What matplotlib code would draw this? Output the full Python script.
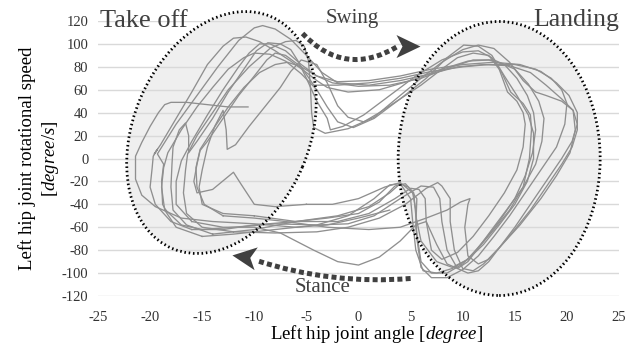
import numpy as np
import matplotlib
matplotlib.use("Agg")
import matplotlib.pyplot as plt
from matplotlib.patches import Ellipse, Polygon, FancyArrowPatch
from matplotlib.transforms import Affine2D, ScaledTranslation

plt.rcParams['font.family'] = ['Liberation Serif', 'DejaVu Serif']
plt.rcParams['mathtext.fontset'] = 'custom'
plt.rcParams['mathtext.it'] = 'Liberation Serif:italic'
plt.rcParams['mathtext.rm'] = 'Liberation Serif'
plt.rcParams['axes.unicode_minus'] = False

# hip angle [deg] / rotational speed [deg/s], one pair per gait cycle
angle_1 = [3, 0, -3, -6, -10, -14, -17, -19.5, -20.8, -21.4, -21.4, -21.4, -20.8, -20, -19.2, -18.6,
           -18, -16.5, -14.5, -12.5, -10.6]
speed_1 = [-45, -52, -58, -60, -57, -55, -52, -42, -32, -18, -5, 2, 14, 28, 40, 47,
           49, 49, 47, 45, 45]

angle_2 = [-18.5, -18.8, -18.9, -18.7, -19.3, -17.5, -15.5, -13.5, -11.5, -10, -9.2, -8, -6.5, -5,
           -3.5, -2, 1, 4, 7, 9.5, 12, 14.5, 16.5, 18, 19.5, 20.6, 21, 20.5, 19.5, 18, 16.5, 15,
           13.5, 12.5, 11.5, 10.5, 9.5, 8.5, 8, 7.8, 7.2, 6, 4, 1.5, -1, -4, -8, -12, -15, -17, -18.5]
speed_2 = [-45, -40, -20, -5, 4, 30, 55, 80, 103, 114, 116, 113, 104, 90,
           75, 66, 64, 68, 74, 80, 82, 81, 75, 64, 52, 42, 30, 15, 0, -20, -40, -60,
           -78, -90, -98, -100, -96, -80, -55, -35, -25, -24, -35, -50, -57, -58, -57, -60, -62, -58, -45]

angle_3 = [-16, -18, -19.5, -20, -19.8, -19.7, -19.3, -19.6, -19, -17.5, -16, -14.5, -13, -12, -10.8,
           -9.5, -8, -6.5, -5, -4, -3, -1, 2, 5, 8, 10.5, 12.5, 14, 15.2, 16.2, 16.8, 17, 16.7, 16,
           15, 13.5, 12, 10.5, 9, 7.5, 6, 5.5, 5.3, 4.5, 3.5, 2, 0, -3, -6, -10, -13, -16]
speed_3 = [-62, -55, -40, -25, -8, 2, 8, 4, 12, 35, 58, 82, 98, 105, 106,
           102, 94, 85, 75, 68, 62, 58, 60, 68, 78, 85, 86, 82, 70, 55, 40, 25, 5, -15,
           -35, -55, -72, -88, -95, -90, -72, -50, -30, -22, -24, -38, -48, -52, -55, -58, -62, -62]

angle_4 = [-14, -16.5, -17.8, -18, -17.9, -17.8, -17.2, -16.6, -16.3, -16.3, -15.5, -14, -12.5, -11,
           -9.8, -8.7, -7.5, -6.5, -5.8, -5, -4, -3, -2.7, -1.5, 0.5, 3, 5.5, 8, 10, 11.5, 12.8, 13.8,
           14.6, 15.8, 16.5, 16.6, 16.4, 15.8, 14.5, 13, 11.5, 10, 8.5, 7, 6, 5.5, 5.6, 4.8, 4, 3, 1,
           -2, -6, -10, -14]
speed_4 = [-66, -58, -45, -25, -5, 10, 25, 31, 20, 5, 15, 35, 58, 78,
           94, 101, 100, 95, 85, 70, 50, 35, 25, 28, 38, 55, 72, 86, 93, 94, 88, 74,
           58, 48, 38, 25, 0, -25, -45, -62, -78, -92, -100, -100, -90, -60, -35, -25, -22, -30, -42,
           -50, -55, -62, -66]

angle_5 = [-12, -15, -16.5, -16.8, -16.6, -16.4, -15.5, -14, -12.5, -10.5, -8.5, -7, -6, -5.2, -4.8,
           -4.6, -4.5, -4.3, -3.2, -1, 1.5, 4, 6, 8, 10, 11.5, 13, 14.5, 15.8, 17, 18, 19.5, 20.6,
           20.8, 20.3, 19, 17.5, 15.5, 13.5, 12, 11, 10, 9.2, 8.8, 8.8, 8, 7.6, 6.5, 4.5, 2, -1, -4,
           -8, -12]
speed_5 = [-64, -60, -48, -30, -10, 4, 20, 40, 60, 80, 96, 102, 103, 98, 85,
           60, 40, 27, 22, 26, 36, 55, 70, 84, 95, 99, 96, 84, 68, 58, 55, 50, 42,
           25, 5, -15, -35, -58, -78, -92, -98, -96, -80, -55, -35, -24, -21, -26, -40, -52, -60, -64,
           -65, -64]

angle_6 = [-10, -13, -15, -15.3, -15, -14.5, -13.8, -13, -12.7, -12.6, -11.8, -10.5, -9, -7.5, -6.5,
           -5.5, -4, -3, -2, -1, 0.5, 2, 4, 6, 8, 9.5, 11, 12.5, 13.5, 14.3, 15.2, 15.8, 16, 15.8,
           15.2, 14, 12.5, 11, 9.5, 8, 7, 6.5, 6.4, 5.8, 5, 3.5, 1, -2, -6, -10]
speed_6 = [-50, -48, -40, -25, -10, 10, 28, 42, 25, 8, 12, 28, 45, 62, 76,
           86, 82, 66, 46, 36, 32, 40, 52, 64, 78, 88, 92, 90, 78, 58, 50, 40, 30, 10,
           -10, -30, -50, -68, -82, -88, -80, -55, -35, -27, -26, -35, -48, -55, -55, -50]

angle_7 = [-5, -8, -10, -11.3, -12, -12.8, -14, -15.5, -15.8, -15.5, -15.2, -14.5, -13, -11.5, -10,
           -8.8, -8, -7, -5.5, -4.3, -2, 1, 4, 7, 10, 12.5, 15, 17, 18.5, 19.5, 20, 19.8, 19, 17.5,
           16, 14.5, 13, 11.5, 10, 8.5, 7, 6, 5.6, 5.5, 5.2, 4, 2.5, 0, -2.5, -5]
speed_7 = [-40, -42, -40, -22, -12, -18, -27, -30, -20, -5, 7, 15, 35, 55, 72,
           86, 92, 90, 80, 64, 64, 66, 70, 76, 80, 82, 82, 78, 70, 60, 48, 30, 10, -10,
           -30, -50, -68, -85, -97, -104, -104, -95, -70, -45, -30, -21, -25, -35, -40, -40]

angle_8 = [-16, -17.5, -17.5, -17, -16, -14.5, -13, -11.5, -10.5, -9.5, -8.5, -7, -5.5, -4, -2.5, 0,
           3, 6, 9, 11, 13, 15, 16.3, 17.3, 17.8, 17.6, 17, 15.8, 14.2, 12.8, 11.5, 10.5, 9.5, 8.5,
           7.5, 6.5, 5.5, 4, 2, 0, -2, -4.3, -7.5, -10, -13, -16]
speed_8 = [-55, -40, -20, -2, 15, 38, 60, 80, 92, 100, 100, 94, 82, 72, 66, 63,
           64, 70, 80, 86, 86, 78, 65, 50, 35, 15, -5, -25, -45, -62, -78, -90, -96, -92,
           -75, -55, -58, -72, -86, -93, -90, -80, -65, -60, -60, -55]

angle_9 = [-13, -14.8, -15.5, -15.6, -15.2, -14, -12.5, -11, -9.5, -8, -6.8, -5.5, -4, -2, 1, 4, 7,
           10, 13, 15.5, 17.5, 19, 20.2, 21, 21, 20.5, 19.5, 18, 16.5, 15, 13.5, 12.5, 11.5, 10.5,
           10.2, 10.5, 10.7, 9.8, 8.5, 6.5, 4, 1, -3, -7, -10, -13]
speed_9 = [-50, -40, -25, -8, 8, 25, 45, 62, 75, 82, 84, 80, 72, 67, 68, 72, 78,
           82, 84, 82, 76, 66, 55, 40, 25, 10, -5, -25, -45, -62, -78, -88, -92, -85,
           -60, -40, -35, -38, -45, -52, -60, -62, -60, -55, -52, -50]

angle_10 = [-15, -17.5, -18.6, -18.9, -18.7, -18.3, -17, -15.5, -14, -12.5, -11, -10, -8.5, -7, -5.5,
            -4, -3, -2, -0.5, 1.5, 4, 6.5, 8.5, 10.1, 11.5, 12.8, 14, 15.2, 16.3, 16.8, 16.8, 16.2,
            15, 13.5, 12, 10.5, 9, 7.5, 6.2, 5.5, 5.2, 5, 4, 3, 1.5, -1, -4, -8, -12, -15]
speed_10 = [-68, -60, -45, -25, -8, 5, 25, 45, 62, 78, 88, 92, 91, 85, 74,
            60, 45, 32, 27, 35, 52, 70, 88, 99, 98, 90, 72, 55, 38, 22, 0, -20,
            -40, -58, -75, -88, -96, -100, -98, -80, -55, -35, -22, -23, -35, -50, -58, -62, -66, -68]

angles = [angle_1, angle_2, angle_3, angle_4, angle_5, angle_6, angle_7, angle_8, angle_9, angle_10]
speeds = [speed_1, speed_2, speed_3, speed_4, speed_5, speed_6, speed_7, speed_8, speed_9, speed_10]

x_ticks = list(range(-25, 30, 5))
y_ticks = list(range(-120, 140, 20))

fig = plt.figure(figsize=(6.34, 3.56), dpi=100)
ax = fig.add_axes([98 / 634, 1 - 296 / 356, 521 / 634, 275 / 356])
ax.set_xlim(-25, 25)
ax.set_ylim(-120, 120)
ax.set_xticks(x_ticks)
ax.set_yticks(y_ticks)
for s in ax.spines.values():
    s.set_visible(False)
ax.tick_params(length=0, labelsize=10.5, colors='#333333')
ax.tick_params(axis='x', pad=11)
ax.tick_params(axis='y', pad=7)
ax.yaxis.grid(True, color='#d9d9d9', lw=1, zorder=0.5)
ax.set_axisbelow(True)

ax.set_xlabel('Left hip joint angle [$degree$]', fontsize=13.5)
ax.xaxis.set_label_coords((377 - 98) / 521, -0.098)
ax.set_ylabel('Left hip joint rotational speed\n[$degree/s$]', fontsize=13.5, labelpad=0.5,
              linespacing=1.25)


def place(x, y):
    # inch offsets anchored at a data point
    return fig.dpi_scale_trans + ScaledTranslation(x, y, ax.transData)


# phase regions
for cx, cy, w, h, ang in [(-13.15, 22.7, 2.52, 1.76, 67), (13.5, 0.0, 2.02, 2.74, 0)]:
    ax.add_patch(Ellipse((0, 0), w, h, angle=ang, transform=place(cx, cy),
                         facecolor='#efefef', edgecolor='none', zorder=0.2, clip_on=False))
    e = Ellipse((0, 0), w, h, angle=ang, transform=place(cx, cy), facecolor='none',
                edgecolor='black', lw=2.0, linestyle=(0, (0.55, 1.0)), zorder=3, clip_on=False)
    ax.add_patch(e)

for a, s in zip(angles, speeds):
    ax.plot(a, s, color='#8f8f8f', lw=0.95, zorder=2)

# arrows
arrow_col = '#404040'
for p0, p1, tip, rot, rad in [((-5.37, 109.1), (3.74, 97.7), (5.95, 97.7), 0, 0.4),
                              ((5.0, -104.7), (-9.8, -89.0), (-12.1, -84.6), 172, -0.1)]:
    body = FancyArrowPatch(p0, p1, connectionstyle='arc3,rad=%s' % rad, arrowstyle='-',
                           color=arrow_col, lw=3.6, linestyle=(0, (1.0, 0.65)),
                           capstyle='butt', shrinkA=0, shrinkB=0, zorder=4, clip_on=False)
    ax.add_patch(body)
    head = Polygon([(0, 0), (-0.24, 0.115), (-0.18, 0), (-0.24, -0.115)], closed=True,
                   facecolor=arrow_col, edgecolor='none', zorder=4, clip_on=False,
                   transform=Affine2D().rotate_deg(rot) + place(*tip))
    ax.add_patch(head)

txt = dict(color='#404040', va='baseline', transform=fig.transFigure)
fig.text(100 / 634, 1 - 27 / 356, 'Take off', fontsize=19, ha='left', **txt)
fig.text(619 / 634, 1 - 26 / 356, 'Landing', fontsize=18.5, ha='right', **txt)
fig.text(326 / 634, 1 - 23 / 356, 'Swing', fontsize=15, ha='left', **txt)
fig.text(295 / 634, 1 - 292 / 356, 'Stance', fontsize=15, ha='left', **txt)

fig.savefig('out.png', dpi=100)
